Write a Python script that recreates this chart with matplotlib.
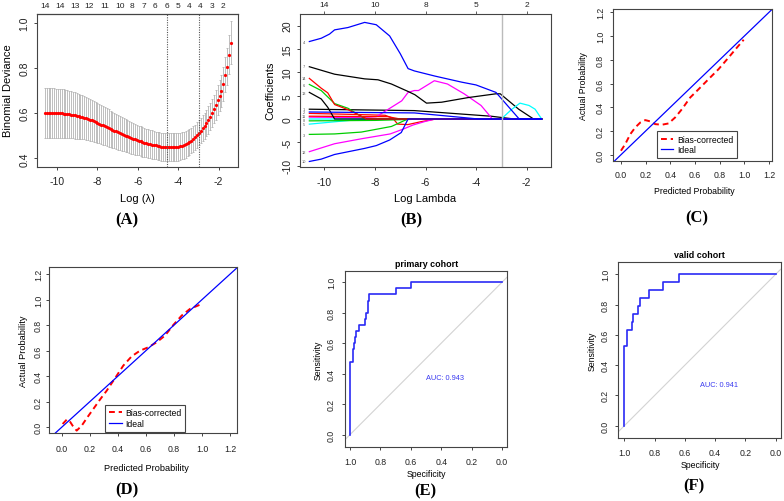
import matplotlib
matplotlib.use("Agg")
import matplotlib.pyplot as plt
from matplotlib.lines import Line2D
import numpy as np

W, H = 784, 502
plt.rcParams['font.family'] = ['Liberation Sans', 'DejaVu Sans']
plt.rcParams['axes.unicode_minus'] = False

# ---- (A) cv.glmnet deviance curve ----
log_lambda = np.linspace(-10.6, -1.4, 100)   # glmnet lambda path (log scale)
cv_dev = [
    0.601, 0.601, 0.601, 0.601, 0.601, 0.601, 0.600, 0.600, 0.599, 0.599,
    0.598, 0.597, 0.596, 0.595, 0.594, 0.592, 0.590, 0.589, 0.587, 0.585,
    0.583, 0.580, 0.577, 0.574, 0.571, 0.568, 0.564, 0.561, 0.557, 0.554,
    0.550, 0.546, 0.542, 0.539, 0.535, 0.531, 0.527, 0.523, 0.520, 0.516,
    0.512, 0.508, 0.505, 0.501, 0.498, 0.494, 0.491, 0.488, 0.485, 0.482,
    0.479, 0.476, 0.473, 0.470, 0.468, 0.465, 0.463, 0.461, 0.459, 0.457,
    0.455, 0.454, 0.452, 0.451, 0.450, 0.449, 0.449, 0.449, 0.449, 0.449,
    0.450, 0.451, 0.453, 0.455, 0.458, 0.462, 0.467, 0.473, 0.479, 0.486,
    0.494, 0.503, 0.513, 0.523, 0.535, 0.545, 0.557, 0.570, 0.585, 0.601,
    0.619, 0.638, 0.659, 0.678, 0.698, 0.730, 0.770, 0.807, 0.860, 0.912]
cv_se = [
    0.110, 0.110, 0.110, 0.110, 0.110, 0.110, 0.109, 0.109, 0.109, 0.108,
    0.108, 0.107, 0.106, 0.105, 0.104, 0.103, 0.102, 0.101, 0.099, 0.098,
    0.097, 0.096, 0.095, 0.094, 0.093, 0.092, 0.091, 0.090, 0.089, 0.088,
    0.087, 0.086, 0.085, 0.084, 0.083, 0.081, 0.080, 0.079, 0.078, 0.077,
    0.076, 0.075, 0.074, 0.073, 0.072, 0.071, 0.070, 0.069, 0.068, 0.067,
    0.066, 0.066, 0.065, 0.065, 0.064, 0.064, 0.063, 0.063, 0.063, 0.062,
    0.062, 0.062, 0.062, 0.062, 0.062, 0.062, 0.062, 0.062, 0.062, 0.062,
    0.061, 0.061, 0.060, 0.060, 0.059, 0.059, 0.058, 0.058, 0.057, 0.057,
    0.056, 0.056, 0.056, 0.057, 0.057, 0.058, 0.059, 0.060, 0.061, 0.062,
    0.064, 0.066, 0.068, 0.070, 0.072, 0.075, 0.078, 0.082, 0.087, 0.095]
lambda_lines = [-4.55, -2.99]
nz_pos = [-10.6, -9.85, -9.1, -8.39, -7.63, -6.90, -6.27, -5.69, -5.16,
          -4.58, -4.03, -3.47, -2.90, -2.34, -1.79]
nz_lab = ['14', '14', '13', '12', '11', '10', '8', '7', '6', '6', '5', '4', '4', '3', '2']

# ---- (B) coefficient paths ----
path_x = [
    [-10.6, -6.44, -3.41, -2.49, -1.4],
    [-10.6, -9.0, -7.6, -7.3, -7.1, -6.7, -6.2, -5.6, -1.4],
    [-10.6, -9.6, -8.54, -7.35, -6.7, -1.4],
    [-10.6, -9.6, -8.8, -8.0, -1.4],
    [-10.6, -8.5, -7.95, -7.47, -6.94, -6.69, -6.44, -6.28, -5.65, -5.13, -4.47, -3.8, -3.35, -1.4],
    [-10.6, -9.6, -8.41, -7.88, -7.35, -6.69, -6.42, -5.96, -5.36, -4.3, -3.21, -3.04, -2.31, -1.72, -1.4],
    [-10.6, -7.5, -7.0, -1.4],
    [-10.6, -10.13, -9.6, -9.07, -8.5, -8.3, -1.4],
    [-10.6, -8.0, -6.0, -1.4],
    [-10.6, -3.0, -2.6, -2.26, -1.9, -1.66, -1.4],
    [-10.6, -9.6, -8.5, -7.4, -6.9, -6.5, -6.0, -5.6, -1.4],
    [-10.6, -10.13, -9.87, -9.6, -1.4],
    [-10.6, -10.13, -9.87, -9.6, -9.07, -8.54, -8.35, -1.4],
    [-10.6, -6.44, -3.9, -1.4],
    [-10.6, -10.13, -9.6, -8.41, -7.95, -7.42, -6.96, -6.69, -1.4],
    [-10.6, -10.13, -9.8, -9.6, -9.07, -8.41, -7.95, -7.42, -7.0, -6.69, -6.44, -5.63,
     -4.57, -4.0, -3.21, -3.08, -2.29, -1.4],
]
path_y = [
    [2.1, 1.8, 0.6, 0.0, 0.0],
    [1.2, 1.0, 0.8, 0.2, -1.1, -1.2, -0.6, 0.0, 0.0],
    [-3.3, -3.2, -2.8, -1.6, 0.0, 0.0],
    [-1.1, -0.6, -0.2, 0.0, 0.0],
    [0.4, 0.3, 0.5, 2.1, 3.9, 5.7, 6.1, 6.1, 8.2, 7.5, 5.4, 2.9, 0.0, 0.0],
    [11.2, 9.6, 8.6, 8.4, 7.5, 5.9, 5.2, 3.4, 3.6, 4.6, 5.4, 5.4, 2.1, 0.0, 0.0],
    [0.6, 0.5, 0.0, 0.0],
    [7.4, 6.1, 3.3, 2.3, 0.4, 0.0, 0.0],
    [-0.4, -0.3, 0.0, 0.0],
    [0.0, 0.0, 2.0, 3.4, 2.9, 2.1, 0.0],
    [-7.0, -5.3, -4.2, -3.2, -2.2, -1.3, -0.5, 0.0, 0.0],
    [5.7, 4.3, 2.5, 0.0, 0.0],
    [8.7, 6.6, 5.6, 3.1, 2.0, 0.6, 0.0, 0.0],
    [1.5, 1.3, 0.0, 0.0],
    [-9.1, -8.6, -7.6, -6.3, -5.7, -4.5, -2.9, 0.0, 0.0],
    [16.6, 17.3, 18.2, 19.1, 19.6, 20.7, 20.2, 17.8, 14.0, 10.8, 10.3, 9.2,
     7.9, 7.3, 5.7, 4.9, 0.0, 0.0],
]
path_col = ['black', 'red', '#00CD00', 'cyan', 'magenta', 'black', 'red', '#00CD00',
            '#00CD00', 'cyan', 'magenta', 'black', 'red', 'blue', 'blue', 'blue']
var_lab = ['4', '7', '14', '6', '13', '1', '2', '11', '8', '5', '3', '12', '10']
var_lab_y = [16.4, 11.3, 8.7, 7.3, 5.6, 2.1, 1.4, 0.6, -0.2, -1.0, -3.4, -7.0, -9.1]
b_top_pos = [-10, -8, -6, -4, -2]
b_top_lab = ['14', '10', '8', '5', '2']
b_vline = -2.99

# ---- (C), (D) calibration ----
cal_c_x = [0.0, 0.035, 0.076, 0.116, 0.157, 0.197, 0.238, 0.278, 0.332, 0.386, 0.44,
           0.495, 0.562, 0.63, 0.711, 0.792, 0.873, 0.941, 0.995]
cal_c_y = [0.034, 0.09, 0.174, 0.23, 0.272, 0.292, 0.281, 0.258, 0.253, 0.264, 0.315,
           0.385, 0.483, 0.553, 0.638, 0.722, 0.82, 0.904, 0.969]
cal_d_x = [0.007, 0.036, 0.055, 0.078, 0.107, 0.143, 0.183, 0.226, 0.273, 0.321, 0.38,
           0.439, 0.499, 0.558, 0.618, 0.677, 0.736, 0.796, 0.855, 0.914, 0.998]
cal_d_y = [0.026, 0.06, 0.052, 0.013, -0.026, 0.013, 0.078, 0.144, 0.217, 0.287, 0.384,
           0.483, 0.556, 0.6, 0.627, 0.666, 0.718, 0.802, 0.875, 0.927, 0.966]
prob_ticks = [0.0, 0.2, 0.4, 0.6, 0.8, 1.0, 1.2]

# ---- (E), (F) ROC ----
spec_e = [1.0, 1.0, 0.983, 0.975, 0.967, 0.958, 0.942, 0.900, 0.892, 0.883, 0.875, 0.700, 0.600, 0.0]
sens_e = [0.0, 0.48, 0.56, 0.60, 0.64, 0.68, 0.72, 0.76, 0.80, 0.88, 0.92, 0.96, 1.00, 1.00]
spec_f = [1.0, 1.0, 0.985, 0.952, 0.941, 0.907, 0.896, 0.835, 0.742, 0.637, 0.0]
sens_f = [0.0, 0.526, 0.632, 0.684, 0.737, 0.789, 0.842, 0.895, 0.947, 1.0, 1.0]
auc_e, auc_f = 0.943, 0.941
roc_ticks = [0.0, 0.2, 0.4, 0.6, 0.8, 1.0]

fig = plt.figure(figsize=(W / 100, H / 100), dpi=100)


def add_ax(l, t, r, b):
    return fig.add_axes([l / W, 1 - b / H, (r - l) / W, (b - t) / H])


def ftext(x, y, s, **kw):
    kw.setdefault('ha', 'center'); kw.setdefault('va', 'center')
    fig.text(x / W, 1 - y / H, s, **kw)


def r_style(ax, fs, xpad, ypad):
    for s in ax.spines.values():
        s.set_color('#444444'); s.set_linewidth(0.8)
    ax.tick_params(length=2.5, width=0.7, color='#444444', labelsize=fs, labelcolor='#222222')
    ax.tick_params(axis='x', pad=xpad)
    ax.tick_params(axis='y', pad=ypad)
    for lab in ax.get_yticklabels():
        lab.set_rotation(90); lab.set_va('center'); lab.set_ha('right')


# (A)
ax = add_ax(37.3, 15, 238.3, 167.7)
ax.errorbar(log_lambda, cv_dev, yerr=cv_se, fmt='none', ecolor='#B3B3B3',
            elinewidth=0.6, capsize=1.0, capthick=0.6)
ax.plot(log_lambda, cv_dev, 'o', color='red', ms=2.3, mew=0)
for v in lambda_lines:
    ax.axvline(v, color='#555555', ls=(0, (1, 1.2)), lw=0.8)
ax.set_xlim(-10.97, -1.03); ax.set_ylim(0.363, 1.04)
ax.set_xticks([-10, -8, -6, -4, -2]); ax.set_yticks([0.4, 0.6, 0.8, 1.0])
r_style(ax, 7.5, 4.2, 3.0)
top = ax.secondary_xaxis('top')
top.set_xticks(nz_pos, nz_lab)
top.tick_params(length=0, labelsize=6, pad=3.5, labelcolor='#222222')
ftext(137.7, 199, 'Log (λ)', fontsize=8)
ftext(8.3, 91, 'Binomial Deviance', fontsize=8, rotation=90)

# (B)
ax = add_ax(300, 15, 551, 168.3)
for xs, ys, c in zip(path_x, path_y, path_col):
    ax.plot(xs, ys, color=c, lw=0.9)
ax.axvline(b_vline, color='#BBBBBB', lw=1.0)
for s, y in zip(var_lab, var_lab_y):
    ax.text(-10.8, y, s, fontsize=2.8, color='#555555', ha='center', va='center')
ax.set_xlim(-10.97, -1.03); ax.set_ylim(-10.35, 22.5)
ax.set_xticks([-10, -8, -6, -4, -2]); ax.set_yticks([-10, -5, 0, 5, 10, 15, 20])
r_style(ax, 7.5, 4.2, 3.0)
top = ax.secondary_xaxis('top')
top.set_xticks(b_top_pos, b_top_lab)
top.tick_params(length=2, width=0.6, color='#444444', labelsize=6, pad=2, labelcolor='#222222')
top.spines['top'].set_visible(False)
ftext(425.5, 199, 'Log Lambda', fontsize=8)
ftext(270, 91, 'Coefficients', fontsize=8, rotation=90)


def calib(ax, cx, cy, xl, yl, leg_anchor):
    ax.plot(cx, cy, color='red', lw=1.4, ls=(0, (3, 2)))
    ax.axline((0, 0), (1, 1), color='blue', lw=0.9)
    ax.set_xlim(*xl); ax.set_ylim(*yl)
    ax.set_xticks(prob_ticks); ax.set_yticks(prob_ticks)
    handles = [Line2D([], [], color='red', lw=1.4, ls=(0, (3, 2))),
               Line2D([], [], color='blue', lw=0.9)]
    ax.legend(handles, ['Bias-corrected', 'Ideal'], loc='lower left',
              bbox_to_anchor=leg_anchor, fontsize=6.2, frameon=True, fancybox=False,
              edgecolor='#444444', framealpha=1, borderpad=0.45, labelspacing=0.15,
              handlelength=1.5, handletextpad=0.4, borderaxespad=0)
    ax.get_legend().get_frame().set_linewidth(0.8)


# (C)
ax = add_ax(613.3, 10, 771.7, 161.7)
calib(ax, cal_c_x, cal_c_y, (-0.062, 1.222), (-0.05, 1.228), (0.274, 0.016))
r_style(ax, 6.3, 4.0, 3.6)
ftext(694.5, 191.7, 'Predicted Probability', fontsize=6.3)
ftext(583, 86, 'Actual Probability', fontsize=6.3, rotation=90)

# (D)
ax = add_ax(49.3, 268.3, 236.7, 434.3)
calib(ax, cal_d_x, cal_d_y, (-0.088, 1.247), (-0.047, 1.253), (0.297, 0.01))
r_style(ax, 6.3, 5.0, 2.0)
ftext(146.7, 468.3, 'Predicted Probability', fontsize=6.6)
ftext(23.3, 351, 'Actual Probability', fontsize=6.6, rotation=90)


def roc(ax, sp, se, auc, auc_y, title, xl, yl):
    ax.axline((1, 0), (0, 1), color='#D3D3D3', lw=0.8)
    ax.step(sp, se, where='post', color='#2A2AF5', lw=1.2)
    ax.text(0.5, auc_y, f'AUC: {auc:.3f}', color='#3B3BF0', fontsize=5.3,
            ha='left', va='center')
    ax.set_xlim(*xl); ax.set_ylim(*yl)
    ax.set_xticks(roc_ticks); ax.set_yticks(roc_ticks)
    ax.set_title(title, fontsize=6.4, fontweight='bold', pad=4)


# (E)
ax = add_ax(345, 272.3, 507.3, 448.3)
roc(ax, spec_e, sens_e, auc_e, 0.372, 'primary cohort', (1.033, -0.035), (-0.083, 1.072))
r_style(ax, 6.3, 4.2, 4.0)
ftext(426, 474.3, 'Specificity', fontsize=6.3)
ftext(318, 360, 'Sensitivity', fontsize=6.3, rotation=90)

# (F)
ax = add_ax(618.3, 263.3, 780.7, 439.3)
roc(ax, spec_f, sens_f, auc_f, 0.275, 'valid cohort', (1.04, -0.033), (-0.083, 1.079))
r_style(ax, 6.3, 4.2, 3.6)
ftext(700, 465.7, 'Specificity', fontsize=6.3)
ftext(592, 351, 'Sensitivity', fontsize=6.3, rotation=90)

# panel letters
for s, x, y in [('(A)', 126.7, 220.7), ('(B)', 411.7, 220), ('(C)', 696.7, 218.3),
                ('(D)', 126.7, 490), ('(E)', 425, 491.7), ('(F)', 694, 486.7)]:
    ftext(x, y, s, fontsize=12, fontweight='bold',
          family=['Liberation Serif', 'DejaVu Serif'])

fig.savefig('out.png', dpi=100)
